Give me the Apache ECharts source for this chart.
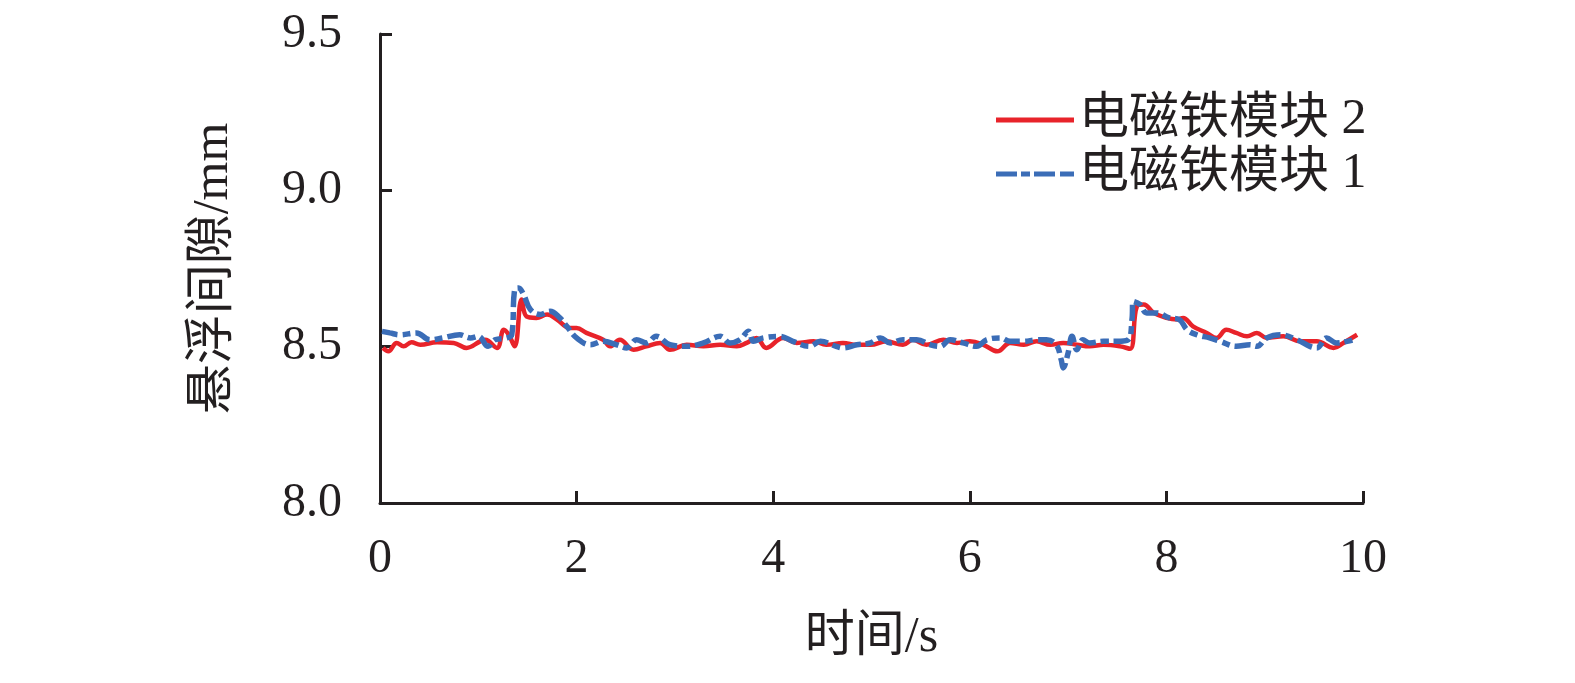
<!DOCTYPE html>
<html>
<head>
<meta charset="utf-8">
<script src="https://cdn.jsdelivr.net/npm/echarts@6/dist/echarts.min.js"></script>
<style>
html,body{margin:0;padding:0;background:#fff;}
#chart{width:1575px;height:683px;}
</style>
</head>
<body>
<div id="chart"></div>
<script>
// ---- Data ----
const seriesNames = ['电磁铁模块 2', '电磁铁模块 1'];
const xTicks = [0, 2, 4, 6, 8, 10];
const yTicks = [8.0, 8.5, 9.0, 9.5];

const module2Time = [0.03,0.085,0.17,0.24,0.32,0.41,0.58,0.75,0.88,1.02,1.07,1.19,1.26,1.31,1.37,1.44,1.49,1.59,1.70,1.80,1.93,2.00,2.10,2.27,2.34,2.44,2.58,2.71,2.85,2.95,3.12,3.29,3.46,3.63,3.73,3.83,3.93,4.10,4.24,4.41,4.54,4.71,4.85,4.99,5.15,5.32,5.42,5.56,5.73,5.87,6.00,6.14,6.28,6.41,6.55,6.68,6.82,6.95,7.09,7.22,7.36,7.53,7.63,7.70,7.77,7.87,8.00,8.11,8.17,8.27,8.41,8.51,8.61,8.71,8.82,8.92,9.02,9.19,9.36,9.53,9.70,9.80,9.94];
const module2Gap = [8.496,8.485,8.512,8.501,8.514,8.506,8.514,8.512,8.496,8.517,8.522,8.496,8.554,8.538,8.501,8.651,8.597,8.592,8.603,8.587,8.560,8.560,8.544,8.522,8.501,8.522,8.490,8.501,8.512,8.490,8.506,8.501,8.506,8.501,8.512,8.528,8.496,8.528,8.512,8.517,8.506,8.512,8.506,8.506,8.517,8.506,8.522,8.506,8.522,8.512,8.517,8.506,8.485,8.512,8.506,8.517,8.506,8.512,8.506,8.501,8.506,8.501,8.493,8.629,8.635,8.608,8.592,8.587,8.592,8.565,8.544,8.528,8.554,8.544,8.533,8.544,8.528,8.533,8.517,8.517,8.496,8.512,8.538];

const module1Time = [0.02,0.10,0.20,0.37,0.51,0.64,0.81,0.92,1.00,1.10,1.17,1.29,1.34,1.37,1.41,1.46,1.53,1.63,1.73,1.83,1.90,2.00,2.14,2.27,2.41,2.51,2.61,2.71,2.81,2.95,3.12,3.29,3.46,3.56,3.66,3.75,3.80,3.90,4.07,4.20,4.37,4.48,4.64,4.71,4.85,4.99,5.09,5.19,5.32,5.46,5.60,5.70,5.80,5.93,6.07,6.17,6.31,6.41,6.55,6.68,6.78,6.88,6.93,6.95,7.00,7.04,7.09,7.15,7.22,7.36,7.50,7.61,7.65,7.66,7.73,7.80,7.90,8.03,8.13,8.21,8.31,8.44,8.55,8.71,8.85,8.92,9.02,9.16,9.33,9.46,9.53,9.63,9.73,9.84,9.90];
const module1Gap = [8.549,8.544,8.538,8.544,8.522,8.528,8.538,8.528,8.533,8.501,8.522,8.528,8.538,8.683,8.688,8.667,8.619,8.603,8.613,8.592,8.565,8.528,8.506,8.517,8.506,8.496,8.522,8.512,8.533,8.506,8.501,8.512,8.533,8.512,8.522,8.549,8.517,8.528,8.533,8.517,8.501,8.517,8.501,8.496,8.506,8.512,8.528,8.512,8.522,8.522,8.506,8.501,8.522,8.512,8.501,8.522,8.528,8.517,8.517,8.522,8.522,8.506,8.458,8.432,8.480,8.533,8.490,8.522,8.512,8.517,8.517,8.522,8.587,8.645,8.635,8.608,8.608,8.592,8.587,8.554,8.538,8.528,8.517,8.501,8.506,8.501,8.528,8.538,8.522,8.501,8.496,8.528,8.512,8.517,8.522];

const zip = (xs, ys) => xs.map((x, i) => [x, ys[i]]);

const FONT = "'Liberation Serif', 'Noto Sans CJK SC', serif";
const INK = '#231f20';
const RED = '#e8232a';
const BLUE = '#3b6db7';

// legend icons drawn as simple bar shapes (solid / dashed)
const solidIcon = 'path://M0,0h78v5h-78z';
const dashIcon = 'path://M0,0h21v5h-21z M25,0h9v5h-9z M38,0h21v5h-21z M64,0h14v5h-14z';

const chart = echarts.init(document.getElementById('chart'), null, {renderer: 'canvas'});
chart.setOption({
  backgroundColor: '#ffffff',
  animation: false,
  grid: {left: 380, right: 212, top: 34, bottom: 180, containLabel: false},
  legend: {
    orient: 'vertical',
    left: 991,
    top: 90,
    itemWidth: 78,
    itemHeight: 5,
    itemGap: 4,
    data: [
      {name: seriesNames[0], icon: solidIcon, itemStyle: {color: RED}},
      {name: seriesNames[1], icon: dashIcon, itemStyle: {color: BLUE}}
    ],
    textStyle: {fontFamily: FONT, fontSize: 50, color: INK}
  },
  xAxis: {
    type: 'value',
    min: 0, max: 10, interval: 2,
    name: '时间/s',
    nameLocation: 'middle',
    nameGap: 110,
    nameTextStyle: {fontFamily: FONT, fontSize: 50, color: INK},
    axisLine: {lineStyle: {color: INK, width: 3}},
    axisTick: {inside: true, length: 12, lineStyle: {color: INK, width: 3}},
    axisLabel: {fontFamily: FONT, fontSize: 48, color: INK, margin: 32,
      formatter: v => xTicks.includes(v) ? String(v) : ''},
    splitLine: {show: false}
  },
  yAxis: {
    type: 'value',
    min: 8.0, max: 9.5, interval: 0.5,
    name: '悬浮间隙/mm',
    nameLocation: 'middle',
    nameGap: 141,
    nameTextStyle: {fontFamily: FONT, fontSize: 50, color: INK},
    axisLine: {show: true, lineStyle: {color: INK, width: 3}},
    axisTick: {show: true, inside: true, length: 12, lineStyle: {color: INK, width: 3}},
    axisLabel: {fontFamily: FONT, fontSize: 48, color: INK, margin: 38,
      formatter: v => yTicks.some(t => Math.abs(t - v) < 1e-9) ? v.toFixed(1) : ''},
    splitLine: {show: false}
  },
  series: [
    {
      name: seriesNames[0],
      type: 'line',
      data: zip(module2Time, module2Gap),
      showSymbol: false,
      symbol: 'none',
      smooth: 0.4,
      z: 2,
      itemStyle: {color: RED},
      lineStyle: {color: RED, width: 4.5}
    },
    {
      name: seriesNames[1],
      type: 'line',
      data: zip(module1Time, module1Gap),
      showSymbol: false,
      symbol: 'none',
      smooth: 0.4,
      z: 3,
      itemStyle: {color: BLUE},
      lineStyle: {color: BLUE, width: 5.5, type: [16, 5, 8, 5]}
    }
  ]
});
</script>
</body>
</html>
